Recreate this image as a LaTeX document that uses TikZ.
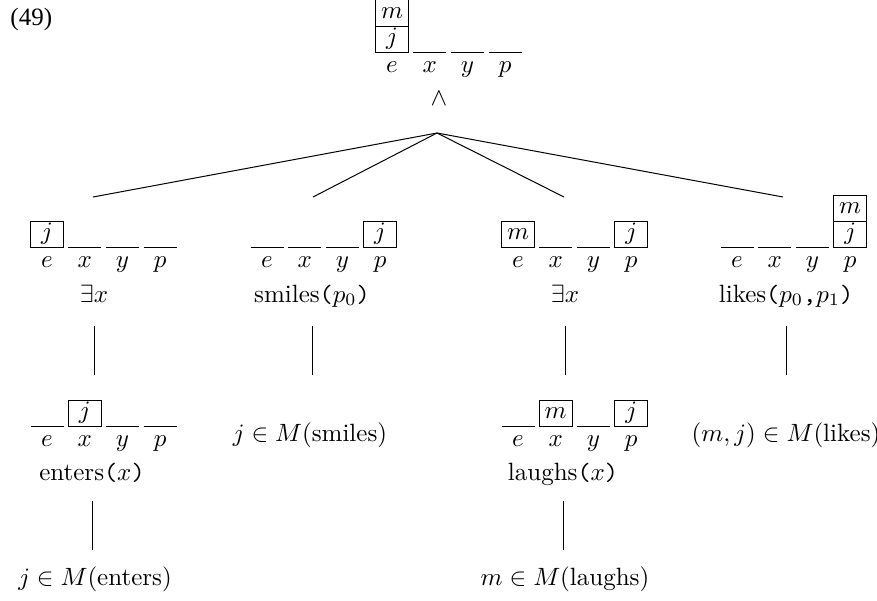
\documentclass[tikz,border=0pt]{standalone}
\usepackage{amsmath,amssymb}
\usepackage{fontspec}
\newfontfamily\exfont{Liberation Serif}
\usetikzlibrary{positioning}

\tikzset{
    slotbox/.style={minimum width=12.8pt, minimum height=10pt, inner sep=0pt, anchor=south},
    varlab/.style={anchor=north, inner sep=1.5pt, text height=1.5ex, text depth=.25ex},
    formula/.style={anchor=base, inner sep=0pt, text height=7.5pt, text depth=2.5pt},
    branch/.style={thin}
}

% one slot of a register: name, position, value, variable
\newcommand{\slot}[4]{%
  \node[slotbox] (#1) at (#2) {$#3$};
  \if\relax\detokenize{#3}\relax
    \draw (#1.south west) -- (#1.south east);
  \else
    \draw (#1.south west) rectangle (#1.north east);
  \fi
  \node[varlab] (#1-lab) at (#1.south) {$#4$};
}
% a second value stacked on a slot
\newcommand{\stackon}[2]{%
  \node[slotbox] (#1-up) at (#1.north) {$#2$};
  \draw (#1-up.south west) rectangle (#1-up.north east);
}
% register e x y p: name, left x, line y, values
\newcommand{\register}[7]{%
  \slot{#1e}{{#2+16},#3}{#4}{e}
  \slot{#1x}{{#2+53.7},#3}{#5}{x}
  \slot{#1y}{{#2+91.4},#3}{#6}{y}
  \slot{#1p}{{#2+129.1},#3}{#7}{p}
}

\begin{document}
\begin{tikzpicture}[x=0.4pt, y=-0.4pt]
\useasboundingbox (0,0) rectangle (877,600);

\node[anchor=base west, inner sep=0pt] (num) at (10,25) {\exfont (49)};

% top
\register{top}{376}{52}{j}{}{}{}
\stackon{tope}{m}
\node[formula] (and) at (439,105) {$\wedge$};
\coordinate (fork) at (437,133);

% conjuncts
\coordinate (t1) at (93,197);
\coordinate (t2) at (313,197);
\coordinate (t3) at (564,197);
\coordinate (t4) at (783,197);
\foreach \t in {t1,t2,t3,t4}
    \draw[branch] (fork) -- (\t);

\register{ra}{31}{247}{j}{}{}{}
\register{rb}{251}{247}{}{}{}{j}
\register{rc}{502}{247}{m}{}{}{j}
\register{rd}{721}{247}{}{}{}{j}
\stackon{rdp}{m}

\node[formula] (exa) at (94,302) {$\exists x$};
\node[formula] (smi) at (312,302) {smiles\texttt{(}$p_0$\texttt{)}};
\node[formula] (exc) at (565,302) {$\exists x$};
\node[formula] (lik) at (786,302) {likes\texttt{(}$p_0$\texttt{,}$p_1$\texttt{)}};

% second level
\register{re}{31}{426}{}{j}{}{}
\register{rf}{502}{426}{}{m}{}{j}

\node[formula] (smim) at (310,441) {$j\in M(\text{smiles})$};
\node[formula] (likm) at (786,441) {$(m,j)\in M(\text{likes})$};
\node[formula] (ent) at (92,480) {enters\texttt{(}$x$\texttt{)}};
\node[formula] (lau) at (563,480) {laughs\texttt{(}$x$\texttt{)}};

\node[formula] (entm) at (95,585) {$j\in M(\text{enters})$};
\node[formula] (laum) at (565,585) {$m\in M(\text{laughs})$};

\draw[branch, shorten <=6.8pt, shorten >=34.4pt] (exa) -- (exa |- ent.north);
\draw[branch, shorten <=6.8pt, shorten >=18.8pt] (smi) -- (smi |- smim.north);
\draw[branch, shorten <=6.8pt, shorten >=34.4pt] (exc) -- (exc |- lau.north);
\draw[branch, shorten <=6.8pt, shorten >=18.8pt] (lik) -- (lik |- likm.north);
\draw[branch, shorten <=5.6pt, shorten >=6.4pt] (ent) -- (ent |- entm.north);
\draw[branch, shorten <=5.6pt, shorten >=6.4pt] (lau) -- (lau |- laum.north);
\end{tikzpicture}
\end{document}
